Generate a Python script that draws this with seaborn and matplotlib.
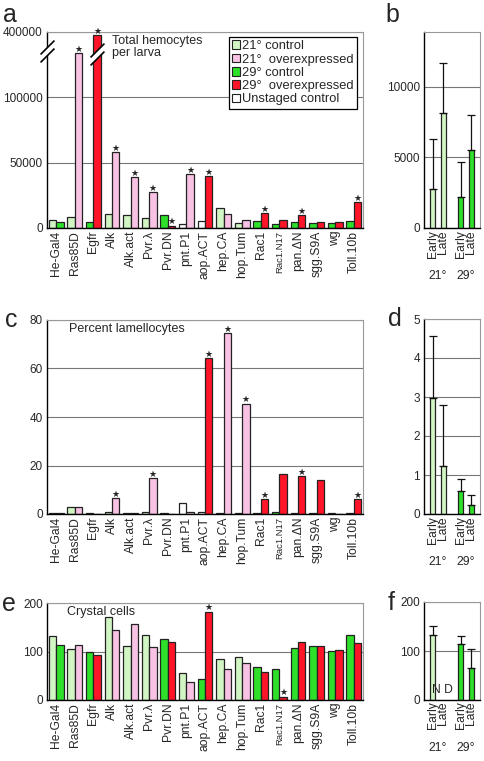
import numpy as np
import pandas as pd
import seaborn as sns
import matplotlib.pyplot as plt
from matplotlib.patches import Patch
from matplotlib.transforms import blended_transform_factory

sns.set_theme(style='white')
plt.rcParams['font.family'] = ['Liberation Sans', 'DejaVu Sans']

# ---- data ----
genotypes = ['He-Gal4', 'Ras85D', 'Egfr', 'Alk', 'Alk.act', 'Pvr.λ', 'Pvr.DN', 'pnt.P1',
             'aop.ACT', 'hep.CA', 'hop.Tum', 'Rac1', 'Rac1.N17', 'pan.ΔN', 'sgg.S9A', 'wg', 'Toll.10b']

# a: total hemocytes per larva
hemo_ctrl = [6000, 8600, 4800, 10700, 9650, 7900, 9650, 3000, 5600, 15500, 3800, 5600, 2800, 4800, 3800, 3800, 5600]
hemo_over = [4800, 303000, 386000, 57900, 39100, 27200, 1800, 41400, 39900, 10400, 6300, 11200, 6350, 9650, 4600, 4600, 19800]
hemo_ctrl_col = ['c21', 'c21', 'c29', 'c21', 'c21', 'c21', 'c29', 'un', 'un', 'c21', 'c21', 'c29', 'c29', 'c29', 'c29', 'c29', 'c29']
hemo_over_col = ['c29', 'o21', 'o29', 'o21', 'o21', 'o21', 'o29', 'o21', 'o29', 'o21', 'o21', 'o29', 'o29', 'o29', 'o29', 'o29', 'o29']
hemo_stars = ['Ras85D', 'Egfr', 'Alk', 'Alk.act', 'Pvr.λ', 'Pvr.DN', 'pnt.P1', 'aop.ACT', 'Rac1', 'pan.ΔN', 'Toll.10b']

# c: percent lamellocytes
lam_ctrl = [0.3, 2.9, 0.3, 0.8, 0.3, 1.0, 0.3, 4.7, 0.8, 0.5, 0.5, 0.3, 0.9, 0.3, 0.3, 0.3, 0.3]
lam_over = [0.3, 2.9, 0.2, 6.6, 0.3, 14.8, 0.2, 1.0, 64.2, 74.7, 45.5, 6.0, 16.4, 15.7, 14.0, 0.2, 6.0]
lam_stars = ['Alk', 'Pvr.λ', 'aop.ACT', 'hep.CA', 'hop.Tum', 'Rac1', 'pan.ΔN', 'Toll.10b']

# e: crystal cells
crys_ctrl = [131, 105, 100, 172, 112, 135, 126, 56, 43, 85, 88, 68, 63, 108, 111, 101, 135]
crys_over = [113, 114, 93, 144, 157, 110, 120, 38, 182, 63, 76, 58, 7, 120, 111, 104, 117]
crys_ctrl_col = ['c21', 'c21', 'c29', 'c21', 'c21', 'c21', 'c29', 'c21', 'c29', 'c21', 'c21', 'c29', 'c29', 'c29', 'c29', 'c29', 'c29']
crys_over_col = hemo_over_col
crys_stars = ['aop.ACT', 'Rac1.N17']

# b, d, f: controls by stage
temps = ['21°', '29°']
stages = ['Early', 'Late']
b_mean = [2760, 8160, 2190, 5540]
b_top = [6320, 11720, 4670, 8020]
d_mean = [2.97, 1.22, 0.6, 0.22]
d_top = [4.56, 2.8, 0.9, 0.5]
f_mean = [132, np.nan, 115, 65]
f_top = [152, np.nan, 130, 105]

colors = {'c21': '#d2f5c4', 'o21': '#f8c2e4', 'c29': '#2ee02a', 'o29': '#ff1428', 'un': '#ffffff'}
legend_labels = [('c21', '21° control'), ('o21', '21°  overexpressed'), ('c29', '29° control'),
                 ('o29', '29°  overexpressed'), ('un', 'Unstaged control')]

W, H = 485, 761
fig = plt.figure(figsize=(W / 100, H / 100), dpi=100)


def px_axes(l, t, r, b):
    return fig.add_axes([l / W, 1 - b / H, (r - l) / W, (b - t) / H])


def style_axes(ax):
    ax.set_xlabel('')
    ax.set_ylabel('')
    ax.yaxis.grid(True, color='#777777', lw=0.8)
    ax.xaxis.grid(False)
    ax.set_axisbelow(True)
    for s in ['left', 'bottom']:
        ax.spines[s].set_color('black')
        ax.spines[s].set_linewidth(1.0)
    for s in ['top', 'right']:
        ax.spines[s].set_color('#999999')
        ax.spines[s].set_linewidth(0.8)
    ax.tick_params(axis='y', length=0, pad=3, labelsize=8.5)


def star(ax, bar):
    ax.annotate('★', (bar.get_x() + bar.get_width() / 2, bar.get_height()),
                xytext=(0, -0.5), textcoords='offset points', ha='center', va='bottom',
                fontsize=6.5, family='DejaVu Sans', annotation_clip=False)


def big_panel(ax, ctrl, over, ctrl_col, over_col, stars):
    n = len(genotypes)
    df = pd.DataFrame({'genotype': genotypes * 2,
                       'slot': ['ctrl'] * n + ['over'] * n,
                       'value': ctrl + over})
    sns.barplot(data=df, x='genotype', y='value', hue='slot', order=genotypes,
                hue_order=['ctrl', 'over'], errorbar=None, legend=False, width=0.8,
                edgecolor='#222222', linewidth=0.9, ax=ax)
    conts = list(ax.containers)
    for cont, cols in zip(conts, [ctrl_col, over_col]):
        for bar in cont:
            i = int(round(bar.get_x() + bar.get_width() / 2))
            bar.set_facecolor(colors[cols[i]])
    for bar in conts[1]:
        i = int(round(bar.get_x() + bar.get_width() / 2))
        if genotypes[i] in stars:
            star(ax, bar)
    style_axes(ax)
    ax.tick_params(axis='x', length=0, pad=2, labelsize=8.7, labelrotation=90)
    for lab in ax.get_xticklabels():
        if lab.get_text() == 'Rac1.N17':
            lab.set_fontsize(6.8)
    return conts


def side_panel(ax, mean, top, nd=False):
    df = pd.DataFrame({'temp': [t for t in temps for _ in stages],
                       'stage': stages * 2,
                       'value': mean})
    sns.barplot(data=df, x='temp', y='value', hue='stage', order=temps, hue_order=stages,
                errorbar=None, legend=False, width=0.76, gap=0.47,
                edgecolor='#222222', linewidth=0.9, ax=ax)
    trans = blended_transform_factory(ax.transData, ax.transAxes)
    centers = {}
    conts = list(ax.containers)
    for j, cont in enumerate(conts):
        for bar in cont:
            cx = bar.get_x() + bar.get_width() / 2
            i = int(round(cx))
            k = i * 2 + j
            if np.isnan(mean[k]):
                continue
            centers[k] = cx
            bar.set_facecolor(colors['c21'] if i == 0 else colors['c29'])
            ax.errorbar(cx, mean[k], yerr=[[0], [top[k] - mean[k]]], fmt='none',
                        ecolor='#111111', elinewidth=0.9, capsize=3, capthick=0.9)
    # stage labels under every slot
    early0, early1, late1 = centers[0], centers[2], centers[3]
    dx = late1 - early1
    for i in range(2):
        for j, st in enumerate(stages):
            cx = (early0 if i == 0 else early1) + j * dx
            ax.text(cx, -0.012, st, rotation=90, ha='center', va='top',
                    fontsize=8.7, transform=trans)
    if nd:
        ax.text(early0 + dx * 0.95, 0.04, 'N D', ha='center', va='bottom',
                fontsize=8.7, transform=trans)
    style_axes(ax)
    ax.set_xlim(-0.5, len(temps) - 0.5)
    ax.tick_params(axis='x', length=0, pad=30, labelsize=8.7)


# ---- panel a ----
axa = px_axes(47, 32, 363, 228)


def fwd(y):
    y = np.asarray(y, dtype=float)
    return np.where(y <= 1e5, y, 1e5 + (y - 1e5) / 6)


def inv(y):
    y = np.asarray(y, dtype=float)
    return np.where(y <= 1e5, y, 1e5 + (y - 1e5) * 6)


axa.set_yscale('function', functions=(fwd, inv))
conts_a = big_panel(axa, hemo_ctrl, hemo_over, hemo_ctrl_col, hemo_over_col, hemo_stars)
axa.text(0.206, 0.985, 'Total hemocytes\nper larva', transform=axa.transAxes,
         ha='left', va='top', fontsize=9, linespacing=1.0)
# axis break marks
egfr_bar = [b for b in conts_a[1] if int(round(b.get_x() + b.get_width() / 2)) == 2][0]
tr_left = blended_transform_factory(axa.transAxes, axa.transData)
slash = [(-1, -1), (1, 1)]
for xpos, tr, ys in [(0, tr_left, (331000, 312750, 294400)),
                     (egfr_bar.get_x() + egfr_bar.get_width() / 2, axa.transData, (317000, 299000, 280600))]:
    axa.plot([xpos], [ys[1]], marker=slash, markersize=10, mew=4.5,
             color='white', transform=tr, clip_on=False, zorder=5)
    for yb in (ys[0], ys[2]):
        axa.plot([xpos], [yb], marker=slash, markersize=10, mew=1.2,
                 color='black', transform=tr, clip_on=False, zorder=6)
axa.set_xlim(-0.5, len(genotypes) - 0.5)
axa.set_ylim(0, 400000)
axa.set_yticks([0, 50000, 100000, 400000], labels=['0', '50000', '100000', '400000'])
handles = [Patch(facecolor=colors[k], edgecolor='#222222', lw=0.8) for k, _ in legend_labels]
leg = axa.legend(handles, [l for _, l in legend_labels], loc='upper right',
                 bbox_to_anchor=(0.981, 0.974), borderaxespad=0, fontsize=9.3,
                 handlelength=0.65, handleheight=0.65, handletextpad=0.15, borderpad=0.25,
                 labelspacing=0.1, fancybox=False, framealpha=1)
leg.get_frame().set_edgecolor('black')
leg.get_frame().set_linewidth(0.9)

# ---- panel b ----
axb = px_axes(424, 32, 480, 228)
side_panel(axb, b_mean, b_top)
axb.set_ylim(0, 13900)
axb.set_yticks([0, 5000, 10000])

# ---- panel c ----
axc = px_axes(47, 320, 363, 514)
big_panel(axc, lam_ctrl, lam_over, hemo_ctrl_col, hemo_over_col, lam_stars)
axc.set_xlim(-0.5, len(genotypes) - 0.5)
axc.set_ylim(0, 80)
axc.set_yticks([0, 20, 40, 60, 80])
axc.text(0.07, 0.985, 'Percent lamellocytes', transform=axc.transAxes,
         ha='left', va='top', fontsize=9)

# ---- panel d ----
axd = px_axes(424, 319, 480, 514)
side_panel(axd, d_mean, d_top)
axd.set_ylim(0, 5)
axd.set_yticks([0, 1, 2, 3, 4, 5])

# ---- panel e ----
axe = px_axes(47, 603, 363, 700)
big_panel(axe, crys_ctrl, crys_over, crys_ctrl_col, crys_over_col, crys_stars)
axe.set_xlim(-0.5, len(genotypes) - 0.5)
axe.set_ylim(0, 200)
axe.set_yticks([0, 100, 200])
axe.text(0.063, 0.97, 'Crystal cells', transform=axe.transAxes,
         ha='left', va='top', fontsize=9)

# ---- panel f ----
axf = px_axes(424, 602, 480, 700)
side_panel(axf, f_mean, f_top, nd=True)
axf.set_ylim(0, 200)
axf.set_yticks([0, 100, 200])

# panel letters
for letter, x, y in [('a', 3, 22), ('b', 385, 22), ('c', 5, 327), ('d', 388, 326),
                     ('e', 2, 611), ('f', 388, 610)]:
    fig.text(x / W, 1 - y / H, letter, fontsize=18, va='baseline', ha='left')

fig.savefig('out.png', dpi=100)
